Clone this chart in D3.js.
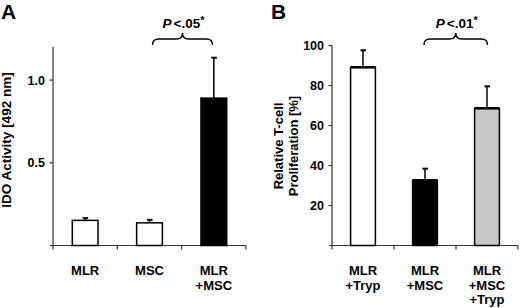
<!DOCTYPE html>
<html><head><meta charset="utf-8">
<script src="https://cdn.jsdelivr.net/npm/d3@7"></script>
<style>body{margin:0;background:#fff}svg{display:block;font-family:Arial,"Liberation Sans",sans-serif}</style>
</head><body>
<svg id="c" width="520" height="308"></svg>
<script>
const catsA = [["MLR"], ["MSC"], ["MLR", "+MSC"]];
const valsA = [0.152, 0.137, 0.891];
const errA = [0.166, 0.155, 1.135];
const fillA = ["#fff", "#fff", "#000"];
const ticksA = [0.5, 1.0];

const catsB = [["MLR", "+Tryp"], ["MLR", "+MSC"], ["MLR", "+MSC", "+Tryp"]];
const valsB = [89.1, 32.6, 68.6];
const errB = [97.6, 38.4, 79.6];
const fillB = ["#fff", "#000", "#c8c8c8"];
const ticksB = [20, 40, 60, 80, 100];

const svg = d3.select("#c");

function panel(o) {
  const g = svg.append("g");
  const x = d3.scaleBand().domain(d3.range(o.cats.length)).range([o.x0, o.x1]).padding(0);
  const y = d3.scaleLinear().domain(o.domain).range([245.5, o.yTop]);
  const bw = x.bandwidth() * 0.4;
  g.append("line").attr("x1", o.x0).attr("x2", o.x0).attr("y1", y(o.domain[1])).attr("y2", y(0))
    .attr("stroke", "#333").attr("stroke-width", 1.2);
  o.ticks.forEach(t => {
    g.append("line").attr("x1", o.x0 - 3.5).attr("x2", o.x0).attr("y1", y(t)).attr("y2", y(t)).attr("stroke", "#333").attr("stroke-width", 1.2);
    g.append("text").attr("x", o.x0 - 8).attr("y", y(t)).attr("dy", "0.36em").attr("text-anchor", "end")
      .attr("font-size", 12.5).attr("font-weight", "bold").text(o.fmt(t));
  });
  g.append("line").attr("x1", o.x0 - 3).attr("x2", o.x1).attr("y1", y(0)).attr("y2", y(0)).attr("stroke", "#333").attr("stroke-width", 1.2);
  d3.range(o.cats.length + 1).forEach(i => {
    const xx = i < o.cats.length ? x(i) : o.x1;
    g.append("line").attr("x1", xx).attr("x2", xx).attr("y1", y(0)).attr("y2", y(0) + 4).attr("stroke", "#333").attr("stroke-width", 1.2);
  });
  o.vals.forEach((v, i) => {
    const cx = x(i) + x.bandwidth() / 2;
    g.append("line").attr("x1", cx).attr("x2", cx).attr("y1", y(v)).attr("y2", y(o.err[i])).attr("stroke", "#000").attr("stroke-width", 1.5);
    g.append("line").attr("x1", cx - 2.5).attr("x2", cx + 3).attr("y1", y(o.err[i])).attr("y2", y(o.err[i])).attr("stroke", "#000").attr("stroke-width", 2);
    g.append("rect").attr("x", cx - bw / 2).attr("y", y(v)).attr("width", bw).attr("height", y(0) - y(v))
      .attr("fill", o.fill[i]).attr("stroke", "#000").attr("stroke-width", 1.5);
    if (o.thickTop) g.append("line").attr("x1", cx - bw / 2).attr("x2", cx + bw / 2).attr("y1", y(v)).attr("y2", y(v)).attr("stroke", "#000").attr("stroke-width", 2.5);
    const t = g.append("text").attr("x", cx).attr("y", 275).attr("text-anchor", "middle").attr("font-size", 13).attr("font-weight", "bold");
    o.cats[i].forEach((s, k) => t.append("tspan").attr("x", cx).attr("y", 275 + k * 14.5).text(s));
  });
  const tt = g.append("text").attr("transform", `translate(${o.titleX},${o.titleY}) rotate(-90)`)
    .attr("text-anchor", "middle").attr("font-size", o.titleSize).attr("font-weight", "bold");
  o.title.forEach((s, k) => tt.append("tspan").attr("x", 0).attr("y", k * 15).text(s));
  g.append("text").attr("x", o.letterX).attr("y", 18.5).attr("font-size", 21).attr("font-weight", "bold").text(o.letter);
  const [b1, b2] = [o.brace[0], o.brace[1]];
  const cx = (b1 + b2) / 2;
  g.append("path").attr("d", `M${b1},45 Q${b1},39 ${b1 + 6},39 L${cx - 6},39 Q${cx},39 ${cx},33 Q${cx},39 ${cx + 6},39 L${b2 - 6},39 Q${b2},39 ${b2},45`)
    .attr("fill", "none").attr("stroke", "#000").attr("stroke-width", 1.4);
  const pt = g.append("text").attr("x", cx + 1).attr("y", 28).attr("text-anchor", "middle").attr("font-size", 13.5).attr("font-weight", "bold");
  pt.append("tspan").attr("font-style", "italic").text("P");
  pt.append("tspan").attr("dx", 2).text("<" + o.p);
  pt.append("tspan").attr("dy", -4).attr("font-size", 11).text("*");
}

panel({x0: 53, x1: 246, yTop: 47, domain: [0, 1.2], ticks: ticksA, fmt: d3.format(".1f"),
  cats: catsA, vals: valsA, err: errA, fill: fillA, thickTop: false,
  title: ["IDO Activity [492 nm]"], titleSize: 13.5, titleX: 11, titleY: 140, letter: "A", letterX: 1,
  brace: [152.5, 212.5], p: ".05"});
panel({x0: 332, x1: 518, yTop: 45.5, domain: [0, 100], ticks: ticksB, fmt: d3.format("d"),
  cats: catsB, vals: valsB, err: errB, fill: fillB, thickTop: true,
  title: ["Relative T-cell", "Proliferation [%]"], titleSize: 13, titleX: 282.5, titleY: 146, letter: "B", letterX: 271,
  brace: [424, 487.5], p: ".01"});
</script>
</body></html>
